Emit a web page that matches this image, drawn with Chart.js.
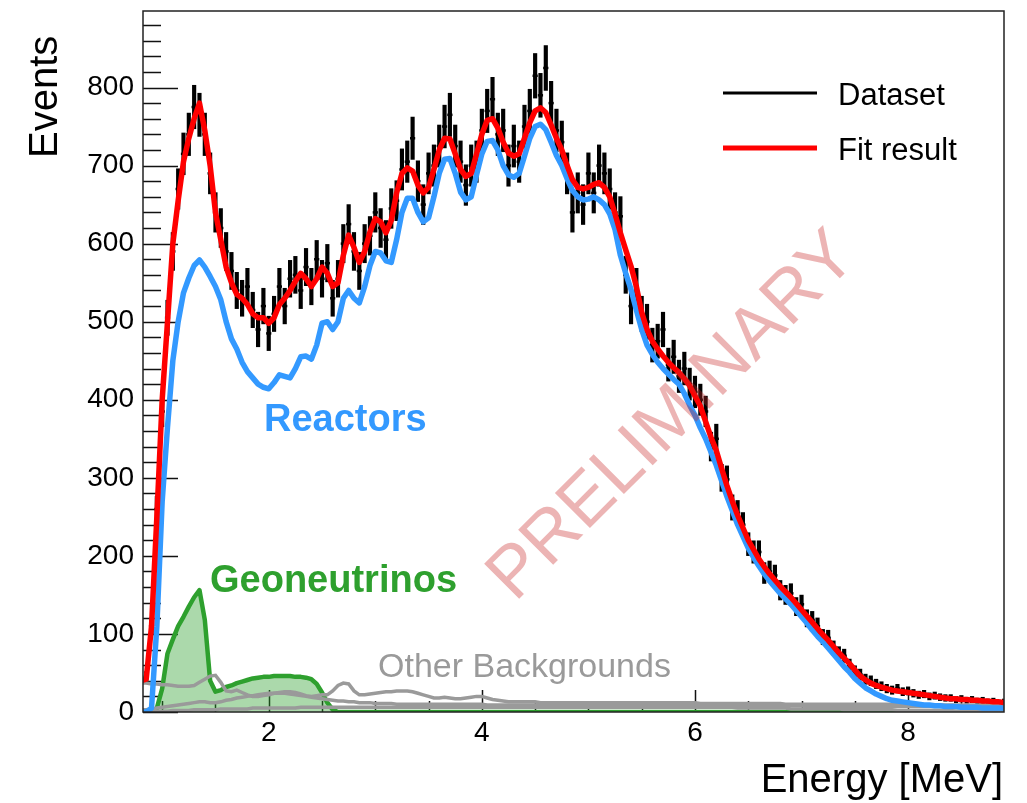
<!DOCTYPE html>
<html>
<head>
<meta charset="utf-8">
<title>Energy spectrum</title>
<script src="https://cdn.jsdelivr.net/npm/chart.js@4.4.1/dist/chart.umd.min.js"></script>
<style>
  html, body { margin: 0; padding: 0; background: #fff; }
  #wrap { width: 1027px; height: 803px; }
</style>
</head>
<body>
<div id="wrap"><canvas id="chart1"></canvas></div>
<script>
// bin centres [MeV]
const energy = [
  0.80, 0.85, 0.90, 0.95, 1.00, 1.05, 1.10, 1.15, 1.20, 1.25,
  1.30, 1.35, 1.40, 1.45, 1.50, 1.55, 1.60, 1.65, 1.70, 1.75,
  1.80, 1.85, 1.90, 1.95, 2.00, 2.05, 2.10, 2.15, 2.20, 2.25,
  2.30, 2.35, 2.40, 2.45, 2.50, 2.55, 2.60, 2.65, 2.70, 2.75,
  2.80, 2.85, 2.90, 2.95, 3.00, 3.05, 3.10, 3.15, 3.20, 3.25,
  3.30, 3.35, 3.40, 3.45, 3.50, 3.55, 3.60, 3.65, 3.70, 3.75,
  3.80, 3.85, 3.90, 3.95, 4.00, 4.05, 4.10, 4.15, 4.20, 4.25,
  4.30, 4.35, 4.40, 4.45, 4.50, 4.55, 4.60, 4.65, 4.70, 4.75,
  4.80, 4.85, 4.90, 4.95, 5.00, 5.05, 5.10, 5.15, 5.20, 5.25,
  5.30, 5.35, 5.40, 5.45, 5.50, 5.55, 5.60, 5.65, 5.70, 5.75,
  5.80, 5.85, 5.90, 5.95, 6.00, 6.05, 6.10, 6.15, 6.20, 6.25,
  6.30, 6.35, 6.40, 6.45, 6.50, 6.55, 6.60, 6.65, 6.70, 6.75,
  6.80, 6.85, 6.90, 6.95, 7.00, 7.05, 7.10, 7.15, 7.20, 7.25,
  7.30, 7.35, 7.40, 7.45, 7.50, 7.55, 7.60, 7.65, 7.70, 7.75,
  7.80, 7.85, 7.90, 7.95, 8.00, 8.05, 8.10, 8.15, 8.20, 8.25,
  8.30, 8.35, 8.40, 8.45, 8.50, 8.55, 8.60, 8.65, 8.70, 8.75,
  8.80, 8.85, 8.90
];

// measured events per bin
const dataset = [
  40, 45, 110, 260, 385, 505, 590, 670, 715, 740,
  775, 765, 740, 690, 640, 620, 590, 565, 540, 530,
  545, 515, 490, 520, 485, 510, 545, 520, 555, 560,
  540, 570, 545, 580, 555, 575, 530, 555, 600, 625,
  590, 565, 600, 610, 640, 620, 605, 645, 655, 695,
  705, 735, 680, 650, 690, 700, 725, 750, 765, 725,
  705, 675, 700, 705, 745, 770, 785, 740, 745, 700,
  725, 705, 750, 770, 815, 790, 825, 780, 745, 730,
  690, 640, 665, 650, 690, 665, 700, 690, 670, 640,
  635, 560, 520, 545, 510, 500, 470, 475, 490, 445,
  455, 430, 440, 420, 410, 400, 385, 340, 350, 300,
  298, 262, 255, 240, 215, 205, 205, 178, 180, 175,
  156, 150, 152, 135, 138, 120, 118, 110, 96, 95,
  82, 75, 72, 60, 52, 48, 42, 40, 36, 33,
  30, 28, 30, 26, 27, 24, 22, 23, 20, 21,
  19, 18, 18, 16, 17, 15, 16, 14, 15, 13,
  14, 12, 13
];

const fitResult = [
  40, 42, 110, 250, 400, 500, 600, 655, 705, 735,
  760, 780, 745, 700, 640, 605, 570, 550, 535, 530,
  522, 510, 505, 505, 498, 505, 522, 530, 540, 552,
  562, 555, 545, 555, 570, 562, 545, 550, 585, 611,
  595, 576, 590, 615, 632, 628, 614, 630, 665, 690,
  697, 693, 675, 665, 672, 695, 720, 735, 734, 715,
  695, 686, 690, 715, 740, 758, 760, 748, 730, 716,
  712, 715, 735, 755, 770, 774, 768, 752, 735, 720,
  700, 682, 672, 670, 672, 676, 678, 672, 660, 638,
  614, 592, 571, 545, 512, 490, 475, 465, 456, 448,
  441, 435, 427, 418, 405, 392, 372, 352, 335, 312,
  290, 270, 252, 236, 220, 208, 196, 186, 177, 169,
  161, 154, 147, 139, 131, 123, 115, 107, 99, 92,
  84, 76, 69, 62, 54, 46, 41, 37, 34, 32,
  30, 28, 27, 26, 25, 24, 23, 22, 21, 20,
  19, 18, 17, 17, 16, 16, 15, 15, 14, 14,
  13, 13, 12
];

const reactors = [
  0, 0, 5, 110, 270, 365, 450, 500, 537, 556,
  572, 579, 570, 558, 545, 528, 500, 478, 465, 448,
  436, 428, 420, 416, 414, 422, 432, 430, 428, 440,
  455, 456, 452, 470, 498, 500, 490, 500, 530, 540,
  530, 524, 545, 572, 590, 588, 578, 576, 605, 640,
  658, 658, 640, 628, 633, 660, 690, 708, 709, 690,
  666, 656, 660, 688, 715, 731, 732, 720, 700, 688,
  685, 690, 712, 735, 750, 753, 746, 730, 713, 700,
  683, 668, 660, 656, 657, 660, 656, 650, 638, 618,
  585, 562, 541, 515, 490, 470, 458, 448, 440, 433,
  426, 420, 408, 393, 380, 364, 350, 333, 316, 296,
  276, 258, 240, 225, 210, 198, 187, 177, 168, 160,
  152, 145, 138, 130, 122, 114, 105, 97, 90, 82,
  74, 66, 58, 51, 43, 37, 31, 27, 23, 20,
  17, 15, 14, 13, 12, 11, 10, 9, 9, 8,
  8, 7, 7, 7, 6, 6, 6, 6, 5, 5,
  5, 5, 5
];

const geoneutrinos = [
  0, 0, 0, 5, 30, 75, 93, 110, 122, 135,
  147, 156, 118, 40, 26, 28, 32, 34, 37, 39,
  41, 43, 44, 45, 45, 46, 46, 46, 46, 45,
  45, 44, 42, 36, 25, 12, 3, 0, 0, 0,
  0, 0, 0, 0, 0, 0, 0, 0, 0, 0,
  0, 0, 0, 0, 0, 0, 0, 0, 0, 0,
  0, 0, 0, 0, 0, 0, 0, 0, 0, 0,
  0, 0, 0, 0, 0, 0, 0, 0, 0, 0,
  0, 0, 0, 0, 0, 0, 0, 0, 0, 0,
  0, 0, 0, 0, 0, 0, 0, 0, 0, 0,
  0, 0, 0, 0, 0, 0, 0, 0, 0, 0,
  0, 0, 0, 0, 0, 0, 0, 0, 0, 0,
  0, 0, 0, 0, 0, 0, 0, 0, 0, 0,
  0, 0, 0, 0, 0, 0, 0, 0, 0, 0,
  0, 0, 0, 0, 0, 0, 0, 0, 0, 0,
  0, 0, 0, 0, 0, 0, 0, 0, 0, 0,
  0, 0, 0
];

// other backgrounds (three components)
const bgUpper = [
  37, 37, 36, 36, 35, 35, 34, 33, 33, 33,
  34, 38, 42, 46, 47, 38, 27, 26, 28, 25,
  22, 20, 20, 21, 22, 24, 25, 26, 26, 25,
  23, 21, 20, 21, 22, 22, 27, 34, 37, 36,
  27, 22, 22, 23, 24, 25, 26, 26, 27, 27,
  27, 26, 24, 22, 20, 18, 18, 19, 18, 17,
  17, 18, 19, 20, 20, 18, 16, 15, 14, 13,
  13, 13, 13, 13, 13, 12, 12, 12, 12, 12,
  12, 12, 12, 12, 12, 12, 12, 12, 12, 12,
  12, 12, 12, 12, 12, 12, 12, 12, 12, 12,
  12, 12, 12, 12, 12, 11, 11, 11, 11, 11,
  11, 11, 11, 11, 11, 11, 11, 11, 11, 11,
  11, 10, 10, 10, 10, 10, 10, 10, 10, 10,
  10, 10, 10, 10, 10, 10, 10, 10, 10, 10,
  10, 10, 10, 10, 10, 9, 9, 9, 9, 9,
  9, 9, 9, 9, 9, 9, 9, 9, 9, 9,
  9, 9, 9
];

const bgMiddle = [
  3, 3, 4, 5, 6, 7, 8, 9, 10, 11,
  12, 13, 13, 12, 12, 13, 15, 16, 18, 19,
  20, 21, 22, 23, 24, 24, 24, 24, 23, 22,
  21, 20, 19, 18, 17, 16, 15, 14, 14, 13,
  13, 12, 12, 12, 11, 11, 11, 11, 10, 10,
  10, 10, 10, 10, 10, 10, 10, 10, 10, 10,
  10, 10, 10, 10, 10, 9, 9, 9, 9, 9,
  9, 9, 9, 9, 9, 9, 9, 9, 9, 9,
  9, 9, 9, 9, 9, 9, 9, 9, 9, 9,
  9, 9, 9, 9, 9, 9, 9, 9, 9, 9,
  9, 9, 9, 9, 9, 8, 8, 8, 8, 8,
  8, 8, 8, 8, 8, 8, 8, 8, 8, 8,
  8, 8, 8, 8, 8, 7, 7, 7, 7, 7,
  7, 7, 7, 7, 7, 7, 7, 7, 7, 7,
  7, 7, 7, 7, 7, 7, 7, 7, 7, 7,
  7, 7, 7, 7, 7, 6, 6, 6, 6, 6,
  6, 6, 6
];

const bgLower = [
  0, 0, 0, 1, 1, 1, 2, 2, 2, 2,
  3, 3, 3, 3, 3, 4, 4, 4, 4, 4,
  4, 5, 5, 5, 5, 5, 5, 5, 5, 5,
  6, 6, 6, 6, 6, 6, 6, 6, 6, 6,
  6, 6, 6, 6, 6, 6, 6, 6, 6, 6,
  6, 6, 6, 6, 6, 6, 6, 6, 6, 6,
  6, 6, 6, 6, 6, 6, 6, 6, 6, 6,
  6, 6, 6, 6, 6, 6, 6, 6, 6, 6,
  6, 6, 6, 6, 6, 6, 6, 6, 6, 6,
  6, 6, 6, 6, 6, 6, 6, 6, 6, 6,
  6, 6, 6, 6, 6, 6, 6, 6, 6, 6,
  6, 6, 5, 5, 5, 5, 5, 5, 5, 5,
  5, 5, 4, 4, 4, 4, 4, 4, 4, 4,
  4, 4, 3, 3, 3, 3, 3, 3, 3, 3,
  3, 3, 2, 2, 2, 2, 2, 2, 2, 2,
  2, 2, 2, 1, 1, 1, 1, 1, 1, 1,
  1, 1, 1
];

const xTicks = [2, 4, 6, 8];
const yTicks = [0, 100, 200, 300, 400, 500, 600, 700, 800];

const FONT = "'Liberation Sans', Arial, Helvetica, sans-serif";
const RED = '#ff0000';
const BLUE = '#3399ff';
const GREEN = '#2ea02e';
const GREY = '#9a9a9a';

Chart.defaults.font.family = FONT;
Chart.defaults.color = '#000';

function pts(values) {
  return energy.map((e, i) => ({x: e, y: values[i]}));
}

// poisson error bars of the data, as floating bars
const errorBars = energy.map((e, i) => {
  const err = Math.sqrt(dataset[i]);
  return {x: e, y: [dataset[i] - err, dataset[i] + err]};
});

const rootStyle = {
  id: 'rootStyle',
  beforeDatasetsDraw(chart) {
    const {ctx, chartArea: a, scales: {x, y}} = chart;
    ctx.save();
    ctx.strokeStyle = '#111';
    ctx.lineWidth = 1.5;
    ctx.beginPath();
    for (let v = 0; v < y.max; v += 20) {
      const py = Math.round(y.getPixelForValue(v)) + 0.5;
      const len = v % 100 === 0 ? 35 : 18;
      ctx.moveTo(a.left, py);
      ctx.lineTo(a.left + len, py);
    }
    for (let v = 1; v < x.max; v += 0.5) {
      const px = Math.round(x.getPixelForValue(v)) + 0.5;
      const len = v % 2 === 0 ? 22 : 11;
      ctx.moveTo(px, a.bottom);
      ctx.lineTo(px, a.bottom - len);
    }
    ctx.stroke();
    ctx.restore();
  },
  afterDatasetsDraw(chart) {
    const {ctx, chartArea: a} = chart;
    ctx.save();
    // frame
    ctx.strokeStyle = '#222';
    ctx.lineWidth = 1.5;
    ctx.strokeRect(a.left, a.top, a.right - a.left, a.bottom - a.top);

    // component labels
    ctx.textBaseline = 'alphabetic';
    ctx.textAlign = 'left';
    ctx.font = 'bold 38px ' + FONT;
    ctx.fillStyle = BLUE;
    ctx.fillText('Reactors', 264, 431);
    ctx.fillStyle = GREEN;
    ctx.fillText('Geoneutrinos', 210, 592);
    ctx.font = '34px ' + FONT;
    ctx.fillStyle = GREY;
    ctx.fillText('Other Backgrounds', 378, 677);

    // legend
    ctx.lineCap = 'butt';
    ctx.strokeStyle = '#000';
    ctx.lineWidth = 3;
    ctx.beginPath(); ctx.moveTo(723, 93); ctx.lineTo(817, 93); ctx.stroke();
    ctx.strokeStyle = RED;
    ctx.lineWidth = 5;
    ctx.beginPath(); ctx.moveTo(723, 148); ctx.lineTo(817, 148); ctx.stroke();
    ctx.font = '31px ' + FONT;
    ctx.fillStyle = '#000';
    ctx.fillText('Dataset', 838, 105);
    ctx.fillText('Fit result', 838, 160);

    // axis titles
    ctx.font = '40px ' + FONT;
    ctx.textAlign = 'right';
    ctx.fillText('Energy [MeV]', 1003, 792);
    ctx.save();
    ctx.translate(57, 158);
    ctx.rotate(-Math.PI / 2);
    ctx.textAlign = 'left';
    ctx.fillText('Events', 0, 0);
    ctx.restore();

    // watermark
    ctx.save();
    ctx.translate(515, 603);
    ctx.rotate(-Math.PI / 4);
    ctx.font = '72px ' + FONT;
    ctx.textAlign = 'left';
    ctx.fillStyle = 'rgba(200, 40, 40, 0.35)';
    ctx.fillText('PRELIMINARY', 0, 0);
    ctx.restore();

    ctx.restore();
  }
};

new Chart('chart1', {
  type: 'line',
  data: {
    datasets: [
      {
        label: 'Fit result',
        data: pts(fitResult),
        borderColor: RED,
        borderWidth: 5.5,
        pointRadius: 0,
        borderJoinStyle: 'round',
        order: 1
      },
      {
        label: 'Reactors',
        data: pts(reactors),
        borderColor: BLUE,
        borderWidth: 5.5,
        pointRadius: 0,
        borderJoinStyle: 'round',
        order: 2
      },
      {
        label: 'Other Backgrounds',
        data: pts(bgUpper),
        borderColor: GREY,
        borderWidth: 3.5,
        pointRadius: 0,
        order: 3
      },
      {
        label: 'Other Backgrounds 2',
        data: pts(bgMiddle),
        borderColor: GREY,
        borderWidth: 3.5,
        pointRadius: 0,
        order: 3
      },
      {
        label: 'Other Backgrounds 3',
        data: pts(bgLower),
        borderColor: GREY,
        borderWidth: 3.5,
        pointRadius: 0,
        order: 3
      },
      {
        label: 'Geoneutrinos',
        data: pts(geoneutrinos),
        borderColor: GREEN,
        backgroundColor: 'rgba(46, 160, 46, 0.4)',
        fill: 'origin',
        borderWidth: 4.5,
        pointRadius: 0,
        borderJoinStyle: 'round',
        order: 4
      },
      {
        type: 'bar',
        label: 'Dataset',
        data: errorBars,
        backgroundColor: '#000',
        barThickness: 3.5,
        order: 5
      },
      {
        label: 'Dataset bins',
        data: pts(dataset),
        showLine: false,
        pointStyle: 'line',
        pointRadius: 2.6,
        pointBorderWidth: 2.5,
        pointBorderColor: '#000',
        borderColor: '#000',
        order: 5
      }
    ]
  },
  options: {
    responsive: true,
    maintainAspectRatio: false,
    animation: false,
    events: [],
    layout: {padding: {left: 0, right: 23, top: 11, bottom: 0}},
    plugins: {
      legend: {display: false},
      tooltip: {enabled: false}
    },
    scales: {
      x: {
        type: 'linear',
        min: 0.82,
        max: 8.9,
        offset: false,
        grid: {display: false, drawTicks: false},
        border: {display: false},
        ticks: {font: {size: 28}, padding: 4, color: '#000', maxRotation: 0},
        afterBuildTicks: s => { s.ticks = xTicks.map(v => ({value: v})); },
        afterFit: s => { s.height = 91; s.paddingLeft = 0; s.paddingRight = 0; }
      },
      y: {
        type: 'linear',
        min: 0,
        max: 898,
        grid: {display: false, drawTicks: false},
        border: {display: false},
        ticks: {font: {size: 28}, padding: 9, color: '#000'},
        afterBuildTicks: s => { s.ticks = yTicks.map(v => ({value: v})); },
        afterFit: s => { s.width = 143; s.paddingTop = 0; s.paddingBottom = 0; }
      }
    }
  },
  plugins: [rootStyle]
});
</script>
</body>
</html>
